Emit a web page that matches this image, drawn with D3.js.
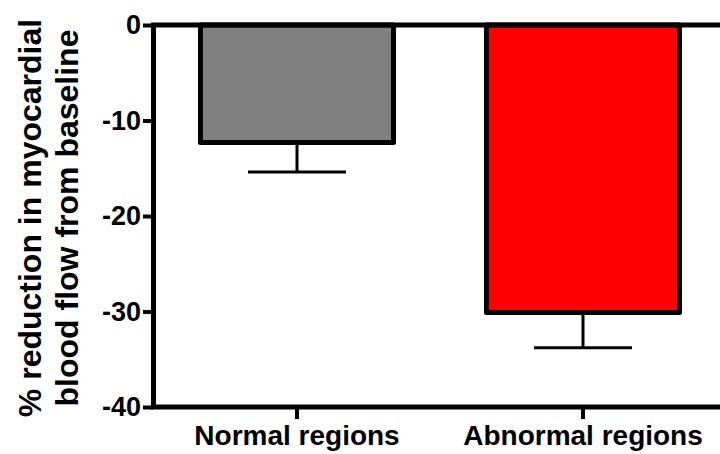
<!DOCTYPE html>
<html>
<head>
<meta charset="utf-8">
<script src="https://cdn.jsdelivr.net/npm/d3@7"></script>
<style>
  body { margin: 0; background: #fff; }
  svg text { font-family: "Liberation Sans", Arial, sans-serif; font-weight: bold; }
</style>
</head>
<body>
<svg id="chart" width="720" height="454"></svg>
<script>
const categories = ["Normal regions", "Abnormal regions"];
const means = [-12.3, -30.1];
const errors = [3.1, 3.7];
const colors = ["#808080", "#ff0000"];
const yTicks = [0, -10, -20, -30, -40];

let svg = d3.select("#chart");

let x = d3.scaleBand()
  .domain(categories)
  .range([153, 727])
  .paddingInner(0.325)
  .paddingOuter(0.166);

let y = d3.scaleLinear()
  .domain([0, -40])
  .range([25, 407]);

let data = categories.map((c, i) => ({ cat: c, mean: means[i], err: errors[i], color: colors[i] }));

// bars
svg.append("g")
  .selectAll("rect")
  .data(data)
  .enter().append("rect")
    .attr("x", d => x(d.cat))
    .attr("y", y(0))
    .attr("width", x.bandwidth())
    .attr("height", d => y(d.mean) - y(0))
    .attr("fill", d => d.color)
    .attr("stroke", "#000")
    .attr("stroke-width", 5)
    .attr("stroke-linejoin", "round");

// error bars
let eb = svg.append("g")
  .selectAll("g.err")
  .data(data)
  .enter().append("g")
    .classed("err", true);

eb.append("line")
  .attr("x1", d => x(d.cat) + x.bandwidth() / 2)
  .attr("x2", d => x(d.cat) + x.bandwidth() / 2)
  .attr("y1", d => y(d.mean))
  .attr("y2", d => y(d.mean - d.err))
  .attr("stroke", "#000")
  .attr("stroke-width", 3);

eb.append("line")
  .attr("x1", d => x(d.cat) + x.bandwidth() / 2 - 49)
  .attr("x2", d => x(d.cat) + x.bandwidth() / 2 + 49)
  .attr("y1", d => y(d.mean - d.err))
  .attr("y2", d => y(d.mean - d.err))
  .attr("stroke", "#000")
  .attr("stroke-width", 3);

// baseline at zero
svg.append("line")
  .attr("x1", 151)
  .attr("x2", 720)
  .attr("y1", y(0))
  .attr("y2", y(0))
  .attr("stroke", "#000")
  .attr("stroke-width", 5);

// y axis
let yAxis = svg.append("g")
  .attr("transform", "translate(153,0)")
  .call(d3.axisLeft(y).tickValues(yTicks).tickSize(10).tickSizeOuter(0).tickFormat(d => String(d)));

yAxis.select(".domain").attr("stroke-width", 5);
yAxis.selectAll(".tick line").attr("stroke-width", 4);
yAxis.selectAll(".tick text")
  .attr("x", -12)
  .attr("font-size", 27)
  .attr("fill", "#000");

// x axis at bottom
let xAxis = svg.append("g")
  .attr("transform", "translate(0," + y(-40) + ")")
  .call(d3.axisBottom(x).tickSize(12).tickSizeOuter(0));

xAxis.select(".domain")
  .attr("d", "M151,0H720")
  .attr("stroke-width", 5);
xAxis.selectAll(".tick line").attr("stroke-width", 4);
xAxis.selectAll(".tick text")
  .attr("y", 18)
  .attr("font-size", 28)
  .attr("fill", "#000");

// y title
svg.append("text")
  .attr("transform", "translate(41,218) rotate(-90)")
  .attr("text-anchor", "middle")
  .attr("font-size", 32)
  .selectAll("tspan")
  .data(["% reduction in myocardial", "blood flow from baseline"])
  .enter().append("tspan")
    .attr("x", 0)
    .attr("dy", (d, i) => i === 0 ? 0 : 37)
    .text(d => d);
</script>
</body>
</html>
